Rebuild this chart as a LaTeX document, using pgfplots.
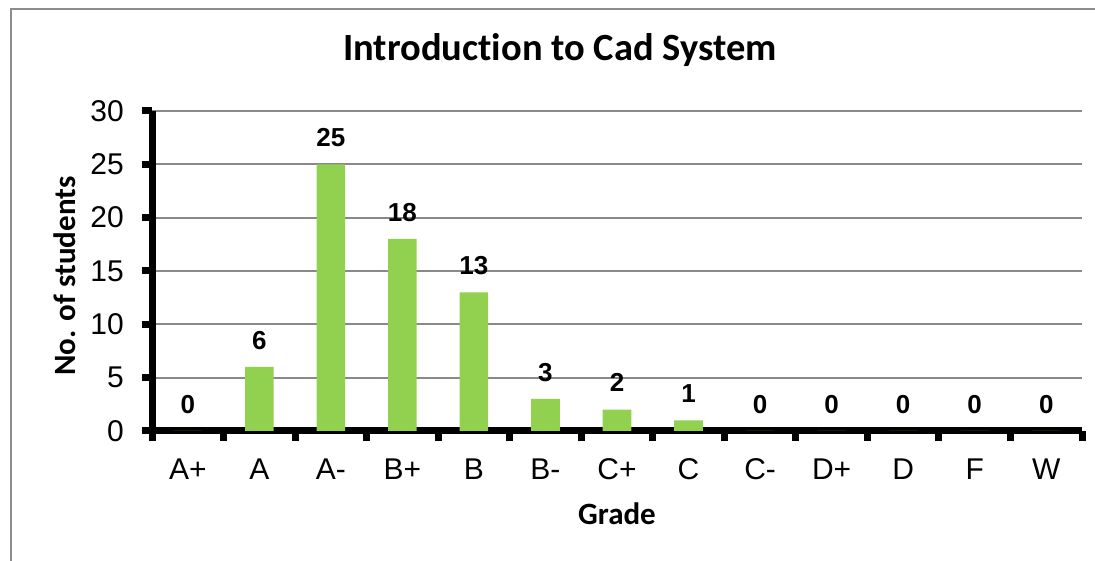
\documentclass[border=0pt]{standalone}
\usepackage{pgfplots}
\pgfplotsset{compat=1.18}
\usepackage{fontspec}
\setmainfont{Liberation Sans}
\newfontfamily\carlito[Ligatures=NoCommon]{Carlito}
\definecolor{bargreen}{HTML}{92D050}
\definecolor{gridgray}{HTML}{898989}
\definecolor{framegray}{HTML}{8C8C8C}
\begin{document}
\begin{tikzpicture}[x=1pt,y=1pt]
\useasboundingbox (0,0) rectangle (1095,561);
\draw[framegray, line width=2pt] (11,-5) -- (11,552) -- (1100,552);
\begin{axis}[
  at={(152pt,130pt)}, anchor=south west,
  scale only axis, width=930pt, height=320pt,
  xmin=-0.5, xmax=12.5, ymin=0, ymax=30,
  axis lines*=left, axis line style={-, line width=7pt, black},
  xtick={0,...,12},
  xticklabels={A+,A,A-,B+,B,B-,C+,C,C-,D+,D,F,W},
  minor xtick={-0.5,0.5,...,12.5},
  ytick={0,5,...,30},
  tick align=outside,
  major tick length=10pt, minor tick length=10pt,
  major x tick style={draw=none},
  minor x tick style={line width=7pt, black},
  ytick style={line width=7pt, black},
  ymajorgrids, major y grid style={gridgray, line width=2pt},
  /pgf/number format/assume math mode=true,
  ticklabel style={font=\fontsize{30}{30}\selectfont},
  yticklabel style={anchor=east, inner sep=0pt, xshift=-18pt},
  xticklabel style={anchor=base, inner sep=0pt, yshift=-39pt},
  title={Introduction to Cad System},
  title style={font=\carlito\bfseries\fontsize{38.5}{38.5}\selectfont, at={(axis description cs:0.4387,1.1406)}, anchor=base},
  xlabel={Grade},
  xlabel style={font=\carlito\bfseries\fontsize{31}{31}\selectfont, at={(axis description cs:0.5,-0.29375)}, anchor=base},
  ylabel={No. of students},
  ylabel style={font=\carlito\bfseries\fontsize{31}{31}\selectfont, at={(axis description cs:-0.0828,0.484)}, anchor=base},
  clip=false,
]
\addplot[ybar, bar width=0.4, fill=bargreen, draw=none,
  nodes near coords,
  every node near coord/.append style={font=\bfseries\fontsize{26}{26}\selectfont, inner sep=0pt, anchor=south, yshift=17.5pt, black}]
  coordinates {(0,0) (1,6) (2,25) (3,18) (4,13) (5,3) (6,2) (7,1) (8,0) (9,0) (10,0) (11,0) (12,0)};
\end{axis}
\end{tikzpicture}
\end{document}
